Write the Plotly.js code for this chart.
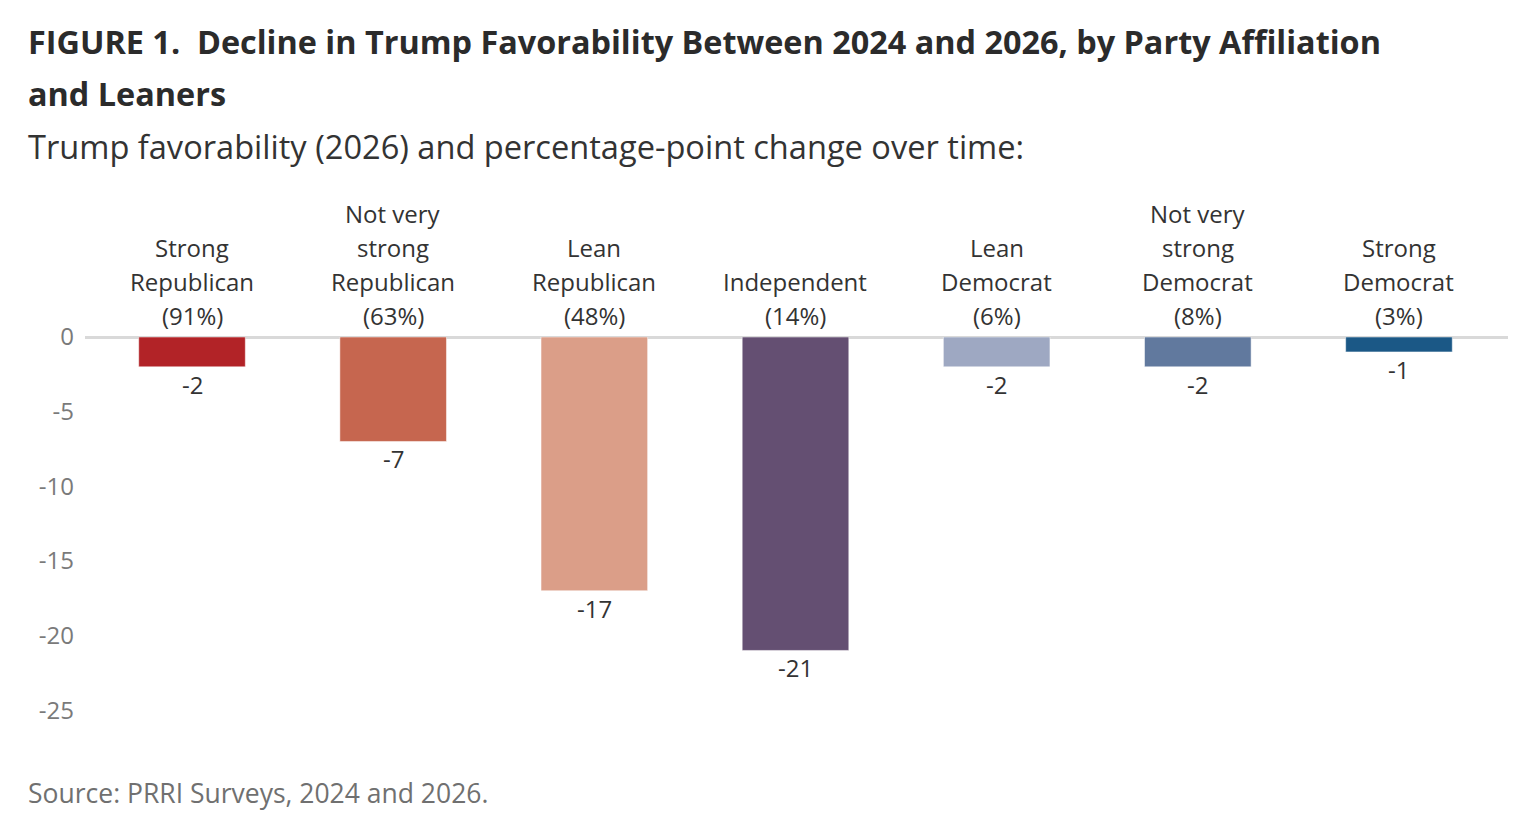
<!DOCTYPE html>
<html>
<head>
<meta charset="utf-8">
<script src="https://cdn.plot.ly/plotly-3.0.1.min.js"></script>
<style>html,body{margin:0;padding:0;background:#fff;}#chart{width:1536px;height:831px;}</style>
</head>
<body>
<div id="chart"></div>
<script>
// ---- data ----
const categories = ["Strong Republican", "Not very strong Republican", "Lean Republican", "Independent", "Lean Democrat", "Not very strong Democrat", "Strong Democrat"];
const tickLabels = ["Strong<br>Republican<br>(91%)", "Not very<br>strong<br>Republican<br>(63%)", "Lean<br>Republican<br>(48%)", "Independent<br>(14%)", "Lean<br>Democrat<br>(6%)", "Not very<br>strong<br>Democrat<br>(8%)", "Strong<br>Democrat<br>(3%)"];
const changeValues = [-2, -7, -17, -21, -2, -2, -1];
const barColors = ["#B22327", "#C6664F", "#DB9E88", "#644F72", "#9EA8C2", "#61799E", "#1B5886"];
const yTickValues = [0, -5, -10, -15, -20, -25];
const yTickText = ["0", "-5", "-10", "-15", "-20", "-25"];

const titleLine1 = "FIGURE 1.  Decline in Trump Favorability Between 2024 and 2026, by Party Affiliation";
const titleLine2 = "and Leaners";
const subtitle = "Trump favorability (2026) and percentage-point change over time:";
const sourceText = "Source: PRRI Surveys, 2024 and 2026.";

// ---- layout geometry ----
const W = 1536, H = 831;
const L = 85, R = 1508, T = 337, B = 740;
const px2x = p => (p - L) / (R - L);
const px2y = p => (B - p) / (B - T);
const FONT = "Open Sans, Noto Sans, sans-serif";

const idx = categories.map((_, i) => i);

const trace = {
  type: "bar",
  x: idx,
  y: changeValues,
  width: 0.53,
  marker: { color: barColors, line: { color: "rgba(255,255,255,0.5)", width: 1 } },
  hoverinfo: "skip"
};

const annotations = [];
// value labels below bars
changeValues.forEach((v, i) => {
  annotations.push({
    x: i, y: v, xref: "x", yref: "y",
    text: String(v), showarrow: false,
    xanchor: "center", yanchor: "top", yshift: 1,
    font: { family: FONT, size: 24, color: "#333333" }
  });
});
// category labels above the zero line (one annotation per line for spacing)
tickLabels.forEach((lbl, i) => {
  const lines = lbl.split("<br>");
  lines.forEach((ln, k) => {
    const fromBottom = lines.length - 1 - k;
    annotations.push({
      x: i, y: px2y(315.5 - 34 * fromBottom), xref: "x", yref: "paper",
      text: ln, showarrow: false,
      xanchor: "center", yanchor: "middle",
      font: { family: FONT, size: 24, color: "#333333" }
    });
  });
});
function textAnn(text, px, py, size, color, bold) {
  annotations.push({
    x: px2x(px), y: px2y(py), xref: "paper", yref: "paper",
    text: bold ? "<b>" + text + "</b>" : text, showarrow: false,
    xanchor: "left", yanchor: "middle",
    font: { family: FONT, size: size, color: color }
  });
}
textAnn(titleLine1, 26, 40.5, 32.4, "#2b2b2b", true);
textAnn(titleLine2, 26, 92.5, 32.4, "#2b2b2b", true);
textAnn(subtitle, 26, 146, 32.6, "#333333", false);
textAnn(sourceText, 26, 793, 26.5, "#707070", false);

const layout = {
  width: W, height: H,
  margin: { l: L, r: W - R, t: T, b: H - B, pad: 0 },
  paper_bgcolor: "#ffffff", plot_bgcolor: "#ffffff",
  showlegend: false,
  font: { family: FONT },
  xaxis: {
    range: [-0.532, 6.542],
    showticklabels: false,
    showgrid: false, zeroline: false, showline: false, ticks: "",
    fixedrange: true
  },
  yaxis: {
    range: [-27, 0],
    tickmode: "array", tickvals: yTickValues, ticktext: yTickText,
    tickfont: { family: FONT, size: 24, color: "#7a7a7a" },
    showgrid: false, zeroline: true, zerolinecolor: "#d9d9d9", zerolinewidth: 3,
    showline: false, ticks: "", ticklabelstandoff: 10, fixedrange: true
  },
  annotations: annotations
};

Plotly.newPlot("chart", [trace], layout, { displayModeBar: false, staticPlot: true });
</script>
</body>
</html>
